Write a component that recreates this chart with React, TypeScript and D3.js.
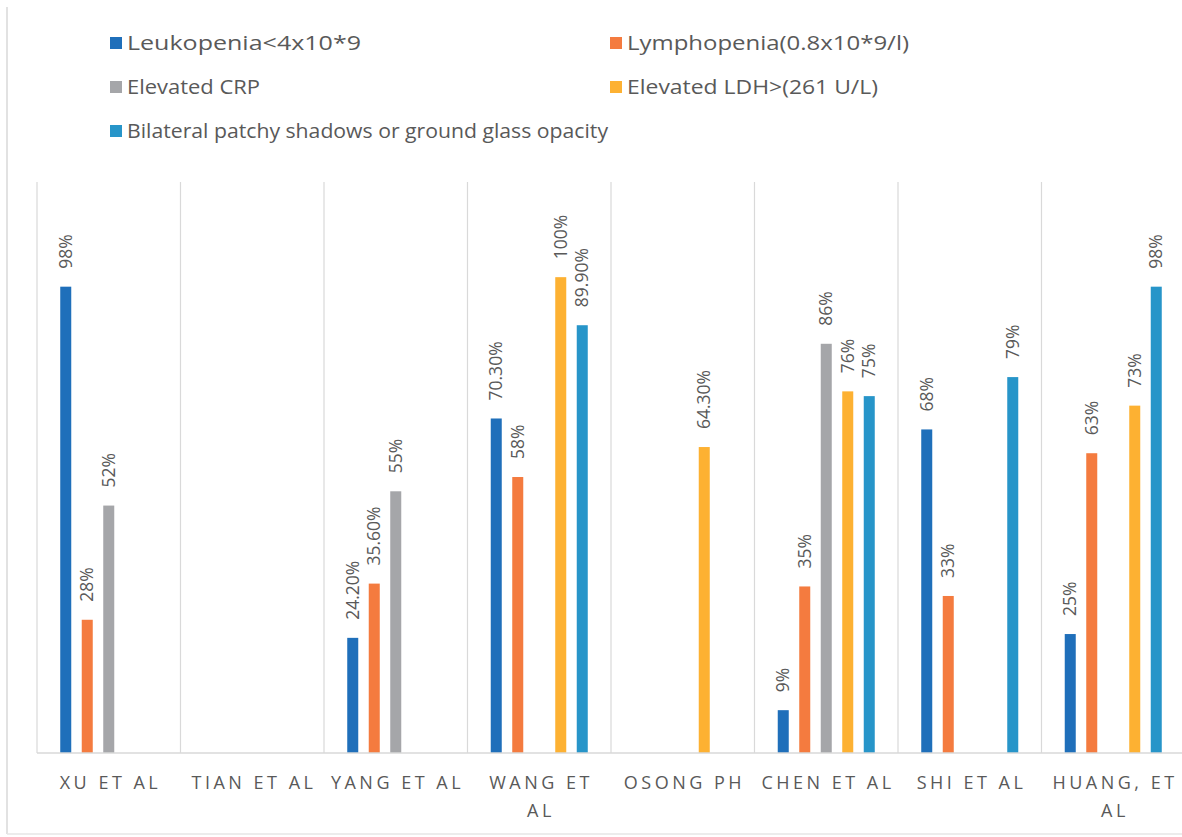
import React from "react";
import * as d3 from "d3";

const categories = ["XU ET AL", "TIAN ET AL", "YANG ET AL", "WANG ET AL", "OSONG PH", "CHEN ET AL", "SHI ET AL", "HUANG, ET AL"];
const categoryLines = [["XU ET AL"], ["TIAN ET AL"], ["YANG ET AL"], ["WANG ET", "AL"], ["OSONG PH"], ["CHEN ET AL"], ["SHI ET AL"], ["HUANG, ET", "AL"]];
const seriesNames = [
  "Leukopenia<4x10*9",
  "Lymphopenia(0.8x10*9/l)",
  "Elevated CRP",
  "Elevated LDH>(261 U/L)",
  "Bilateral patchy shadows or ground glass opacity",
];
const colors = ["#1f6fba", "#f47b3f", "#a5a6a9", "#fdb132", "#2795c9"];
const leukopenia = [98, null, 24.2, 70.3, null, 9, 68, 25];
const lymphopenia = [28, null, 35.6, 58, null, 35, 33, 63];
const crp = [52, null, 55, null, null, 86, null, null];
const ldh = [null, null, null, 100, 64.3, 76, null, 73];
const bilateral = [null, null, null, 89.9, null, 75, 79, 98];
const labelText = [
  ["98%", "", "24.20%", "70.30%", "", "9%", "68%", "25%"],
  ["28%", "", "35.60%", "58%", "", "35%", "33%", "63%"],
  ["52%", "", "55%", "", "", "86%", "", ""],
  ["", "", "", "100%", "64.30%", "76%", "", "73%"],
  ["", "", "", "89.90%", "", "75%", "79%", "98%"],
];
const seriesValues = [leukopenia, lymphopenia, crp, ldh, bilateral];
const legendTextWidths = [234, 282, 133, 251, 481];

const W = 1182;
const H = 837;
const plotLeft = 37;
const catWidth = 143.5;
const plotTop = 182;
const plotBottom = 753;
const font = "'Open Sans', sans-serif";
const textColor = "#595959";

export default function App() {
  const x0 = d3.scaleBand<string>().domain(categories).range([plotLeft, plotLeft + catWidth * categories.length]).padding(0);
  const x1 = d3
    .scaleBand<number>()
    .domain(d3.range(seriesNames.length))
    .range([0, x0.bandwidth()])
    .paddingInner(0.488)
    .paddingOuter(1.081);
  const y = d3.scaleLinear().domain([0, 120]).range([plotBottom, plotTop]);

  const legendPos = [
    [110, 43],
    [610, 43],
    [110, 87],
    [610, 87],
    [110, 131],
  ];

  return (
    <svg width={W} height={H} style={{ display: "block", position: "absolute", left: 0, top: 0 }} fontFamily={font}>
      <rect x={0} y={0} width={W} height={H} fill="#fff" />
      {/* frame */}
      <line x1={7} y1={7} x2={7} y2={834} stroke="#d9d9d9" strokeWidth={1.5} />
      <line x1={7} y1={834} x2={W} y2={834} stroke="#e6e6e6" strokeWidth={1.5} />
      {/* legend */}
      {seriesNames.map((s, i) => (
        <g key={s} transform={`translate(${legendPos[i][0]},${legendPos[i][1]})`}>
          <rect x={0} y={-6} width={12} height={12} fill={colors[i]} />
          <text
            x={17}
            y={0}
            dy="0.35em"
            fontSize={20}
            fill={textColor}
            textLength={legendTextWidths[i]}
            lengthAdjust="spacingAndGlyphs"
          >
            {s}
          </text>
        </g>
      ))}
      {/* vertical gridlines */}
      {d3.range(categories.length + 1).map((i) => {
        const gx = plotLeft + i * catWidth;
        return <line key={i} x1={gx} x2={gx} y1={plotTop} y2={plotBottom} stroke="#d9d9d9" strokeWidth={1.2} />;
      })}
      {/* bars */}
      {seriesValues.map((vals, si) =>
        vals.map((v, ci) => {
          if (v == null) return null;
          const bx = (x0(categories[ci]) as number) + (x1(si) as number);
          const by = y(v);
          const cx = bx + x1.bandwidth() / 2;
          return (
            <g key={`${si}-${ci}`}>
              <rect x={bx} y={by} width={x1.bandwidth()} height={plotBottom - by} fill={colors[si]} />
              <text
                transform={`translate(${cx},${by - 18}) rotate(-90)`}
                dy="0.35em"
                fontSize={17.5}
                fill={textColor}
              >
                {labelText[si][ci]}
              </text>
            </g>
          );
        })
      )}
      {/* baseline */}
      <line x1={plotLeft} x2={W} y1={plotBottom} y2={plotBottom} stroke="#d9d9d9" strokeWidth={1.5} />
      {/* category labels */}
      {categories.map((c, i) => {
        const cx = (x0(c) as number) + x0.bandwidth() / 2;
        return (
          <text key={c} x={cx} y={789} textAnchor="middle" fontSize={18} letterSpacing={3.5} fill={textColor}>
            {categoryLines[i].map((ln, k) => (
              <tspan key={k} x={cx + 1.75} dy={k === 0 ? 0 : 28}>
                {ln}
              </tspan>
            ))}
          </text>
        );
      })}
    </svg>
  );
}
